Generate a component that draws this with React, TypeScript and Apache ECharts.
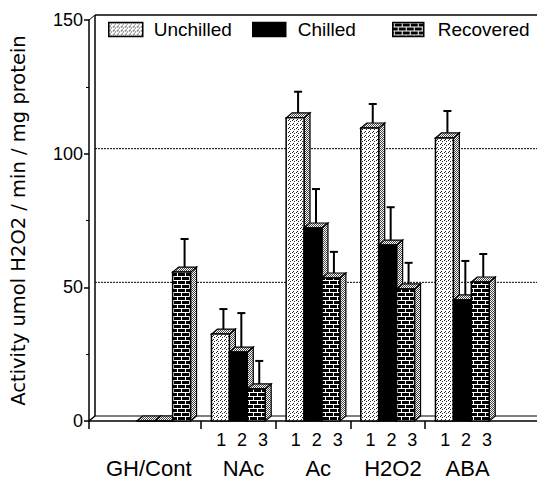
import React, { useEffect, useRef } from "react";
import * as echarts from "echarts";

// ---------- data ----------
const groups = ["GH/Cont", "NAc", "Ac", "H2O2", "ABA"];
const seriesNames = ["Unchilled", "Chilled", "Recovered"];
const unchilled = [0, 32.5, 113.4, 109.6, 105.9];
const unchilledErr = [0, 7.5, 7.9, 7.1, 8.2];
const chilled = [0, 25.8, 72.2, 65.8, 45.3];
const chilledErr = [0, 12.7, 12.7, 12.3, 12.7];
const recovered = [55.7, 12.0, 53.5, 49.4, 52.0];
const recoveredErr = [10.5, 8.6, 7.9, 7.9, 8.6];
const subLabels = ["1", "2", "3"];
const yTicks = [0, 50, 100, 150];
const yTitle = "Activity umol H2O2 / min / mg protein";

// ---------- layout ----------
const DX = 6;
const DY = 5;
const BAR_W = 0.24;
const X_MIN = -1;
const X_MAX = 5;

function makePattern(w: number, h: number, draw: (c: CanvasRenderingContext2D) => void) {
  const c = document.createElement("canvas");
  c.width = w;
  c.height = h;
  const ctx = c.getContext("2d") as CanvasRenderingContext2D;
  draw(ctx);
  return { image: c.toDataURL(), repeat: "repeat", imageWidth: w, imageHeight: h } as any;
}

function buildOption() {
  const dots = makePattern(4, 4, (ctx) => {
    ctx.fillStyle = "#fff";
    ctx.fillRect(0, 0, 4, 4);
    ctx.fillStyle = "#222";
    ctx.fillRect(0, 0, 1, 1);
    ctx.fillRect(2, 1, 1, 1);
    ctx.fillRect(1, 3, 1, 1);
  });
  const side = makePattern(2, 2, (ctx) => {
    ctx.fillStyle = "#fff";
    ctx.fillRect(0, 0, 2, 2);
    ctx.fillStyle = "#444";
    ctx.fillRect(0, 0, 1, 1);
    ctx.fillRect(1, 1, 1, 1);
  });
  const brick = makePattern(8, 8, (ctx) => {
    ctx.fillStyle = "#000";
    ctx.fillRect(0, 0, 8, 8);
    ctx.fillStyle = "#fff";
    ctx.fillRect(0, 0, 8, 1);
    ctx.fillRect(0, 4, 8, 1);
    ctx.fillRect(1, 1, 1, 3);
    ctx.fillRect(5, 5, 1, 3);
  });
  const fills = [dots, "#000", brick];
  const values = [unchilled, chilled, recovered];
  const errs = [unchilledErr, chilledErr, recoveredErr];

  const makeRender = (k: number) => (params: any, api: any) => {
    const gi = api.value(0);
    const v = api.value(1);
    const e = api.value(2);
    const xc = gi + (k - 1) * BAR_W;
    const top = api.coord([xc, v]);
    const base = api.coord([xc, 0]);
    const w = api.size([BAR_W, 0])[0];
    const x0 = top[0] - w / 2;
    const x1 = top[0] + w / 2;
    const y0 = top[1];
    const yb = base[1];
    const children: any[] = [];
    children.push({
      type: "polygon",
      shape: { points: [[x1, y0], [x1 + DX, y0 - DY], [x1 + DX, yb - DY], [x1, yb]] },
      style: { fill: side, stroke: "#000", lineWidth: 1.2 },
    });
    children.push({
      type: "polygon",
      shape: { points: [[x0, y0], [x0 + DX, y0 - DY], [x1 + DX, y0 - DY], [x1, y0]] },
      style: { fill: side, stroke: "#000", lineWidth: 1.2 },
    });
    children.push({
      type: "rect",
      shape: { x: x0, y: y0, width: w, height: yb - y0 },
      style: { fill: fills[k], stroke: "#000", lineWidth: 1.5 },
    });
    if (e > 0) {
      const et = api.coord([xc, v + e]);
      const ex = top[0] + 3;
      children.push({
        type: "line",
        shape: { x1: ex, y1: y0 - DY, x2: ex, y2: et[1] - DY },
        style: { stroke: "#000", lineWidth: 2 },
      });
      children.push({
        type: "line",
        shape: { x1: ex - 4, y1: et[1] - DY, x2: ex + 4, y2: et[1] - DY },
        style: { stroke: "#000", lineWidth: 2 },
      });
    }
    return { type: "group", children };
  };

  const yMin = yTicks[0];
  const yMax = yTicks[yTicks.length - 1];
  const gridVals = yTicks.filter((t) => t > yMin && t < yMax);

  const frameRender = (params: any, api: any) => {
    const bl = api.coord([X_MIN, yMin]);
    const tl = api.coord([X_MIN, yMax]);
    const br = api.coord([X_MAX, yMin]);
    const tr = api.coord([X_MAX, yMax]);
    const ln = (x1: number, y1: number, x2: number, y2: number, lw: number, dash?: number[]) => ({
      type: "line",
      shape: { x1, y1, x2, y2 },
      style: { stroke: "#000", lineWidth: lw, lineDash: dash },
    });
    const ch: any[] = [];
    ch.push(ln(bl[0] + DX, bl[1] - DY, tl[0] + DX, tl[1] - DY, 1.5));
    ch.push(ln(tl[0] + DX, tl[1] - DY, tr[0], tr[1] - DY, 1.5));
    ch.push(ln(tl[0], tl[1], tl[0] + DX, tl[1] - DY, 1));
    ch.push(ln(bl[0], bl[1], bl[0] + DX, bl[1] - DY, 1.5));
    ch.push(ln(bl[0] + DX, bl[1] - DY, br[0], br[1] - DY, 1.2));
    for (const g of gridVals) {
      const p = api.coord([X_MIN, g]);
      const q = api.coord([X_MAX, g]);
      ch.push(ln(p[0] + DX, p[1] - DY, q[0], q[1] - DY, 1, [2, 1]));
    }
    return { type: "group", children: ch };
  };

  const groupLabelShift = [-0.2, 0.07, 0.07, 0.07, 0.07];
  const groupLabels = groups.map((g, i) => ({ pos: i + groupLabelShift[i], text: g }));
  const subLabelList: { pos: number; text: string }[] = [];
  groups.forEach((g, i) => {
    if (i === 0) return;
    subLabels.forEach((s, k) => subLabelList.push({ pos: i + 0.05 + (k - 1) * 0.28, text: s }));
  });
  const lookup = (list: { pos: number; text: string }[]) => (val: number) => {
    let best = "";
    let bd = 0.02;
    for (const o of list) {
      const d = Math.abs(o.pos - val);
      if (d < bd) {
        bd = d;
        best = o.text;
      }
    }
    return best;
  };

  const legendBase = (left: number, iw: number, pad: number, name: string, fill: any) => ({
    left,
    top: 20,
    padding: 0,
    itemWidth: iw,
    itemHeight: 14,
    selectedMode: false,
    data: [{ name, icon: "rect", itemStyle: { color: fill, borderColor: "#000", borderWidth: 1.5 } }],
    textStyle: { fontSize: 19, fontFamily: "Liberation Sans", color: "#000", padding: [0, 0, 0, pad] },
  });

  return {
    animation: false,
    backgroundColor: "#fff",
    grid: { left: 88, top: 20, width: 450, height: 401, containLabel: false },
    legend: [
      legendBase(108, 34, 6, seriesNames[0], dots),
      legendBase(252, 33, 7, seriesNames[1], "#000"),
      legendBase(392, 31, 9, seriesNames[2], brick),
    ],
    xAxis: [
      {
        type: "value",
        min: X_MIN,
        max: X_MAX,
        position: "bottom",
        axisLine: { show: true, onZero: false, lineStyle: { color: "#000", width: 1.5 } },
        axisTick: {
          show: true,
          customValues: [-1, 0.5, 1.5, 2.5, 3.5],
          length: 8,
          lineStyle: { color: "#000", width: 1.5 },
        },
        axisLabel: {
          customValues: groupLabels.map((o) => o.pos),
          formatter: lookup(groupLabels),
          fontSize: 22,
          fontFamily: "Liberation Sans",
          color: "#000",
          margin: 36,
        },
        splitLine: { show: false },
      },
      {
        type: "value",
        min: X_MIN,
        max: X_MAX,
        position: "bottom",
        axisLine: { show: false, onZero: false },
        axisTick: { show: false },
        axisLabel: {
          customValues: subLabelList.map((o) => o.pos),
          formatter: lookup(subLabelList),
          fontSize: 18,
          fontFamily: "Liberation Sans",
          color: "#000",
          margin: 10,
        },
        splitLine: { show: false },
      },
    ],
    yAxis: {
      type: "value",
      min: yMin,
      max: yMax,
      interval: yTicks[1] - yTicks[0],
      axisLine: { show: true, onZero: false, lineStyle: { color: "#000", width: 1.5 } },
      axisTick: { show: true, length: 5, lineStyle: { color: "#000", width: 1.5 } },
      minorTick: { show: true, splitNumber: 2, length: 3, lineStyle: { color: "#000", width: 1 } },
      axisLabel: { color: "#000", fontSize: 18, fontFamily: "Liberation Sans", margin: 6 },
      splitLine: { show: false },
      name: yTitle,
      nameLocation: "middle",
      nameRotate: 90,
      nameGap: 61,
      nameTextStyle: { fontSize: 19.5, fontFamily: "DejaVu Sans", color: "#000" },
    },
    series: [
      {
        type: "custom",
        name: "frame",
        silent: true,
        renderItem: frameRender,
        data: [[0, 0]],
        z: 1,
      },
      ...seriesNames.map((name, k) => ({
        type: "custom",
        name,
        renderItem: makeRender(k),
        itemStyle: { color: fills[k] },
        data: groups.map((g, i) => [i, values[k][i], errs[k][i]]),
        z: 2 + k,
      })),
    ],
  };
}

export default function App() {
  const ref = useRef<HTMLDivElement>(null);
  useEffect(() => {
    if (!ref.current) return;
    const chart = echarts.init(ref.current, null, { renderer: "svg" });
    chart.setOption(buildOption() as any);
    return () => chart.dispose();
  }, []);
  return (
    <div
      ref={ref}
      style={{ position: "fixed", left: 0, top: 0, width: 537, height: 479, background: "#fff" }}
    />
  );
}
